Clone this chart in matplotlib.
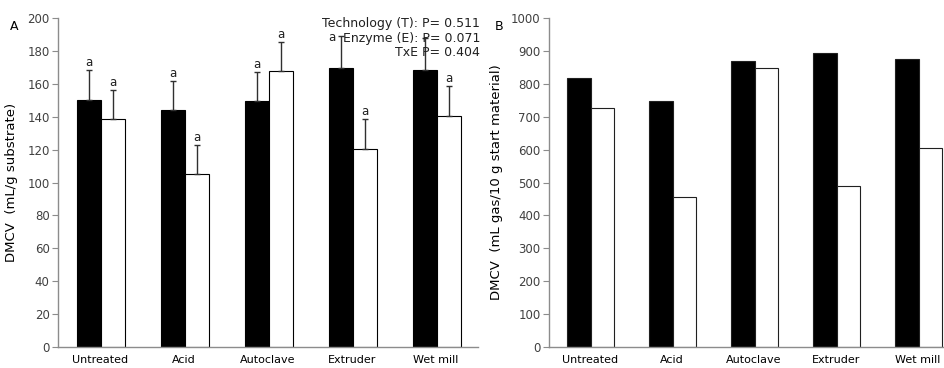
import numpy as np
import matplotlib.pyplot as plt

categories = ['Untreated', 'Acid', 'Autoclave', 'Extruder', 'Wet mill']

# panel A: DMCV per g substrate
a_black = [150.0, 144.0, 149.5, 169.8, 168.6]
a_black_err = [18.4, 18.0, 17.5, 19.2, 19.4]
a_white = [138.6, 105.2, 167.8, 120.4, 140.6]
a_white_err = [17.4, 17.8, 17.8, 18.2, 17.9]
a_black_letters = ['a', 'a', 'a', 'a', '']
a_white_letters = ['a', 'a', 'a', 'a', 'a']

# panel B: DMCV per 10 g start material
b_black = [818, 747, 870, 893, 876]
b_white = [725, 457, 847, 490, 605]

stats_text = ['Technology (T): P= 0.511',
              'Enzyme (E): P= 0.071',
              'TxE P= 0.404']

FS = 8.5
TICK_COLOR = '#404040'
SPINE_COLOR = '#8c8c8c'
W = 0.286


def style_axes(ax, ymax, step):
    ax.set_xlim(-0.5, len(categories) - 0.5)
    ax.set_ylim(0, ymax)
    ax.set_yticks(np.arange(0, ymax + 1, step))
    ax.set_xticks(range(len(categories)))
    ax.set_xticklabels(categories, fontsize=8, color='black')
    ax.tick_params(axis='x', length=0, pad=6)
    ax.tick_params(axis='y', length=4, width=0.8, color=SPINE_COLOR,
                   labelsize=FS, labelcolor=TICK_COLOR, pad=2)
    for side in ['top', 'right']:
        ax.spines[side].set_visible(False)
    for side in ['left', 'bottom']:
        ax.spines[side].set_color(SPINE_COLOR)
        ax.spines[side].set_linewidth(1.0)


fig = plt.figure(figsize=(9.45, 3.68), dpi=100)
ax1 = fig.add_axes([58 / 945, 21 / 368, 420 / 945, 329 / 368])
ax2 = fig.add_axes([549 / 945, 21 / 368, 410 / 945, 329 / 368])

x = np.arange(len(categories))

# panel A
ax1.bar(x - W / 2 + 0.01, a_black, W, color='black', edgecolor='black',
        linewidth=0.8)
ax1.bar(x + W / 2 + 0.01, a_white, W, color='white', edgecolor='black',
        linewidth=0.8)
ax1.errorbar(x - W / 2 + 0.01, a_black, yerr=[np.zeros(5), a_black_err],
             fmt='none', ecolor='#303030', elinewidth=1.0, capsize=2)
ax1.errorbar(x + W / 2 + 0.01, a_white, yerr=[np.zeros(5), a_white_err],
             fmt='none', ecolor='#303030', elinewidth=1.0, capsize=2)
for i in range(len(categories)):
    top_b = a_black[i] + a_black_err[i]
    top_w = a_white[i] + a_white_err[i]
    if i == 3:
        ax1.text(x[i] - W / 2 - 0.1, top_b - 1, a_black_letters[i],
                 fontsize=8.5, ha='center', va='center', color='#202020')
    else:
        ax1.text(x[i] - W / 2 + 0.01, top_b + 4.5, a_black_letters[i],
                 fontsize=8.5, ha='center', va='center', color='#202020')
    ax1.text(x[i] + W / 2 + 0.01, top_w + 4.5, a_white_letters[i],
             fontsize=8.5, ha='center', va='center', color='#202020')
style_axes(ax1, 200, 20)
ax1.set_ylabel('DMCV  (mL/g substrate)', fontsize=9.5, color='black')
ax1.yaxis.set_label_coords(-0.095, 0.5)

# panel B
ax2.bar(x - W / 2 + 0.01, b_black, W, color='black', edgecolor='#202020',
        linewidth=0.8)
ax2.bar(x + W / 2 + 0.01, b_white, W, color='white', edgecolor='#202020',
        linewidth=0.8)
style_axes(ax2, 1000, 100)
ax2.set_ylabel('DMCV  (mL gas/10 g start material)', fontsize=9.5,
               color='black')
ax2.yaxis.set_label_coords(-0.112, 0.5)

# statistics text and panel letters
for k, line in enumerate(stats_text):
    fig.text(480 / 945, 1 - (24 + 14.5 * k) / 368, line, fontsize=9,
             ha='right', va='center', color='#202020')
fig.text(14 / 945, 1 - 27 / 368, 'A', fontsize=9, ha='center',
         va='center')
fig.text(499 / 945, 1 - 27 / 368, 'B', fontsize=9, ha='center',
         va='center')

fig.savefig('out.png', dpi=100)
